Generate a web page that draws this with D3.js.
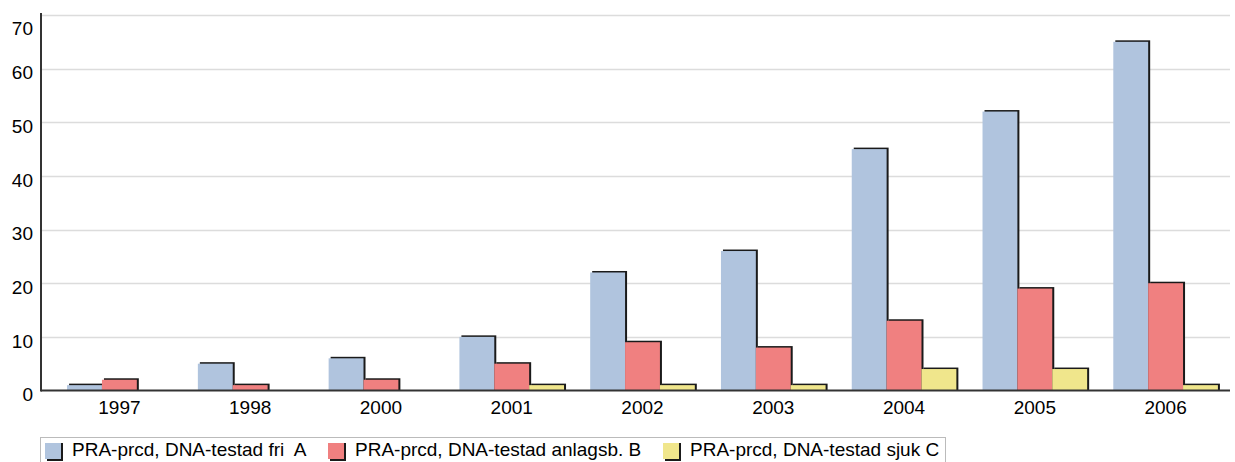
<!DOCTYPE html>
<html>
<head>
<meta charset="utf-8">
<script src="https://cdn.jsdelivr.net/npm/d3@7"></script>
<style>
  body { margin: 0; background: #fff; }
  svg { display: block; font-family: "Liberation Sans", Arial, sans-serif; }
</style>
</head>
<body>
<svg id="chart" width="1235" height="462"></svg>
<script>
var years = ["1997", "1998", "2000", "2001", "2002", "2003", "2004", "2005", "2006"]
var seriesNames = ["PRA-prcd, DNA-testad fri  A", "PRA-prcd, DNA-testad anlagsb. B", "PRA-prcd, DNA-testad sjuk C"]
var friA = [1, 5, 6, 10, 22, 26, 45, 52, 65]
var anlagsbB = [2, 1, 2, 5, 9, 8, 13, 19, 20]
var sjukC = [0, 0, 0, 1, 1, 1, 4, 4, 1]
var yTicks = [0, 10, 20, 30, 40, 50, 60, 70]
var colorCodes = ["#B0C4DE", "#F08080", "#F0E68C"]

var margin = { top: 15, left: 41, right: 5, bottom: 72 }
var fontSize = 19

document.addEventListener("DOMContentLoaded", function () {
    var svg = d3.select("#chart")
    var axisY = 390.5

    var xScale = d3.scaleBand()
        .domain(years)
        .range([54, 1231])
        .paddingInner(0.2)
        .paddingOuter(0.1)

    var yScale = d3.scaleLinear()
        .domain([0, 70])
        .range([axisY, margin.top])

    var inner = d3.scaleBand()
        .domain([0, 1, 2])
        .range([0, xScale.bandwidth()])

    // grid lines
    svg.append("g")
        .selectAll("line")
        .data(yTicks.filter(d => d > 0))
        .enter()
        .append("line")
        .attr("x1", margin.left)
        .attr("x2", 1230)
        .attr("y1", d => Math.round(yScale(d)) + 0.5)
        .attr("y2", d => Math.round(yScale(d)) + 0.5)
        .attr("stroke", "#dcdcdc")
        .attr("stroke-width", 1.5)

    var allSeries = [friA, anlagsbB, sjukC]
    var groups = svg.append("g")
        .selectAll("g")
        .data(years)
        .enter()
        .append("g")
        .attr("transform", d => `translate(${xScale(d)},0)`)

    // each bar: dark shadow shifted right/up, then fill
    groups.each(function (year, yi) {
        var g = d3.select(this)
        allSeries.forEach(function (vals, si) {
            var v = vals[yi]
            if (v <= 0) return
            var x = inner(si)
            var w = inner.bandwidth()
            var y = yScale(v)
            g.append("rect")
                .attr("x", x + 2)
                .attr("y", y - 1.5)
                .attr("width", w)
                .attr("height", axisY - y + 1.5)
                .attr("fill", "#1a1a1a")
            g.append("rect")
                .attr("x", x)
                .attr("y", y)
                .attr("width", w)
                .attr("height", axisY - y)
                .attr("fill", colorCodes[si])
        })
    })

    // axes
    var yAxis = d3.axisLeft(yScale).tickValues(yTicks).tickSize(0).tickPadding(8)
    var gy = svg.append("g")
        .attr("transform", `translate(${margin.left},0)`)
        .call(yAxis)
    gy.select(".domain").remove()
    gy.selectAll("text")
        .attr("font-size", fontSize)
        .attr("dy", d => d == 70 ? "1.05em" : "0.54em")
        .attr("font-family", "Liberation Sans, Arial, sans-serif")
        .attr("fill", "#000")

    svg.append("line")
        .attr("x1", margin.left).attr("x2", margin.left)
        .attr("y1", 13).attr("y2", axisY + 1)
        .attr("stroke", "#333").attr("stroke-width", 2)

    var xAxis = d3.axisBottom(xScale).tickSize(0).tickPadding(10)
    var gx = svg.append("g")
        .attr("transform", `translate(0,${axisY})`)
        .call(xAxis)
    gx.select(".domain").remove()
    gx.selectAll("text")
        .attr("font-size", fontSize)
        .attr("font-family", "Liberation Sans, Arial, sans-serif")
        .attr("fill", "#000")

    svg.append("line")
        .attr("x1", margin.left).attr("x2", 1230)
        .attr("y1", axisY).attr("y2", axisY)
        .attr("stroke", "#333").attr("stroke-width", 2)

    // legend
    var legend = svg.append("g")
    legend.append("rect")
        .attr("x", 40.5).attr("y", 437.5)
        .attr("width", 905).attr("height", 30)
        .attr("fill", "#fff")
        .attr("stroke", "#bbb")

    var legendX = [45, 328, 663]
    seriesNames.forEach(function (name, i) {
        var lg = legend.append("g").attr("transform", `translate(${legendX[i]},0)`)
        lg.append("rect")
            .attr("x", 2).attr("y", 443)
            .attr("width", 16).attr("height", 18)
            .attr("fill", "#1a1a1a")
        lg.append("rect")
            .attr("x", 0).attr("y", 443)
            .attr("width", 16).attr("height", 16)
            .attr("fill", colorCodes[i])
        lg.append("text")
            .attr("x", 27).attr("y", 456)
            .attr("font-size", fontSize)
            .attr("fill", "#000")
            .attr("xml:space", "preserve")
            .style("white-space", "pre")
            .text(name)
    })
})
</script>
</body>
</html>
